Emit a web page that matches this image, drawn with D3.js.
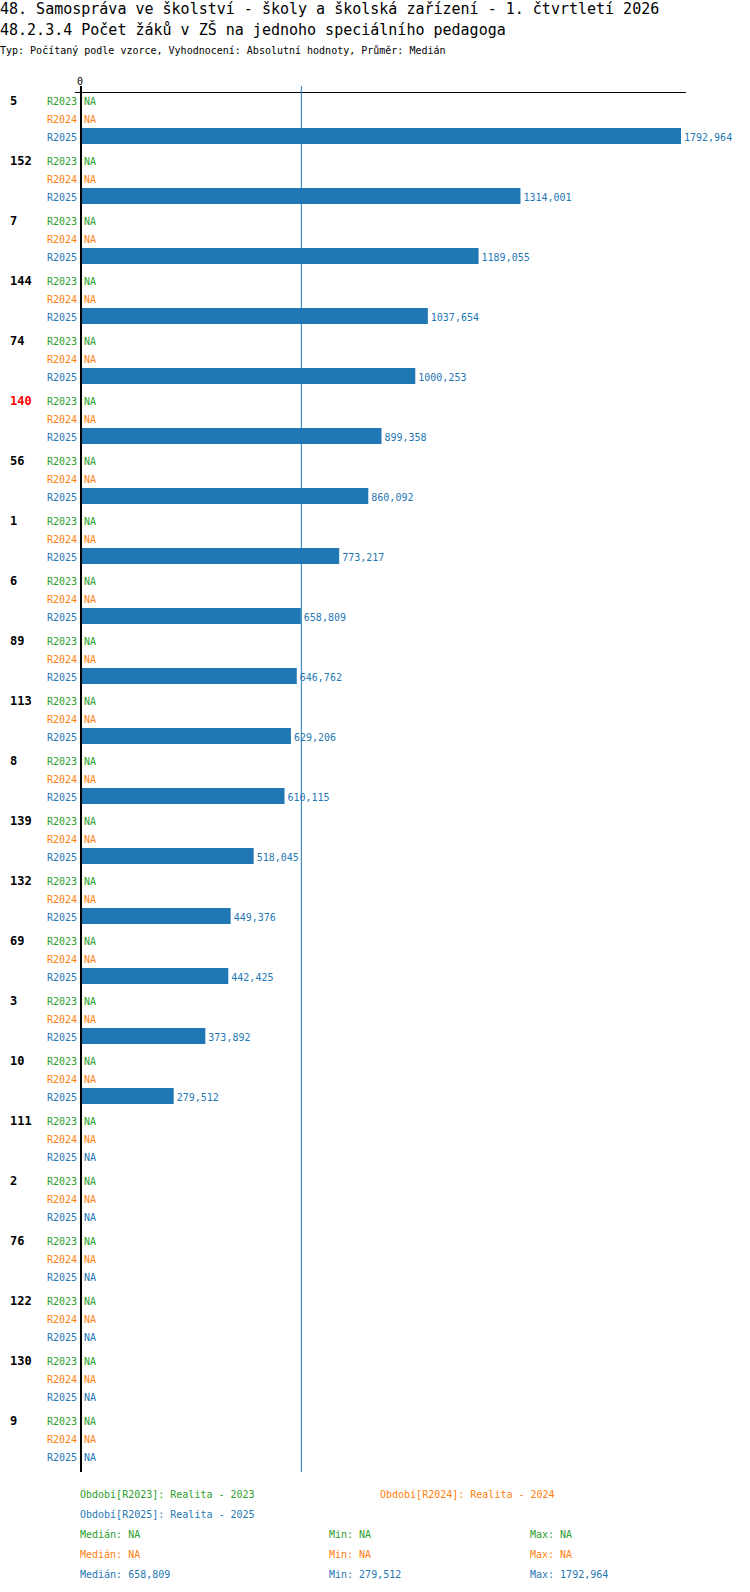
<!DOCTYPE html>
<html>
<head>
<meta charset="utf-8">
<script src="https://cdn.jsdelivr.net/npm/d3@7/dist/d3.min.js"></script>
<style>
  body { margin: 0; background: #fff; }
  svg { display: block; font-family: "DejaVu Sans Mono", "Liberation Mono", monospace; }
</style>
</head>
<body>
<svg id="chart" width="750" height="1592"></svg>
<script>
// ---- data ----
const titleLine1 = "48. Samospráva ve školství - školy a školská zařízení - 1. čtvrtletí 2026";
const titleLine2 = "48.2.3.4 Počet žáků v ZŠ na jednoho speciálního pedagoga";
const subtitle = "Typ: Počítaný podle vzorce, Vyhodnocení: Absolutní hodnoty, Průměr: Medián";
const categories = ["5","152","7","144","74","140","56","1","6","89","113","8","139","132","69","3","10","111","2","76","122","130","9"];
const highlighted = ["140"];
const series = ["R2023","R2024","R2025"];
const seriesNames = ["Realita - 2023","Realita - 2024","Realita - 2025"];
const valuesR2023 = [null,null,null,null,null,null,null,null,null,null,null,null,null,null,null,null,null,null,null,null,null,null,null];
const valuesR2024 = [null,null,null,null,null,null,null,null,null,null,null,null,null,null,null,null,null,null,null,null,null,null,null];
const valuesR2025 = [1792.964,1314.001,1189.055,1037.654,1000.253,899.358,860.092,773.217,658.809,646.762,629.206,610.115,518.045,449.376,442.425,373.892,279.512,null,null,null,null,null,null];
const xTicks = [0];

const colors = ["#2ca02c","#ff7f0e","#1f77b4"];
const allValues = [valuesR2023, valuesR2024, valuesR2025];

const fmt = v => v == null ? "NA" : d3.format(".3f")(v).replace(".", ",");

const svg = d3.select("#chart");

// titles
svg.append("text").attr("x", 0).attr("y", 13.5).attr("font-size", 15).attr("fill", "#000").text(titleLine1);
svg.append("text").attr("x", 0).attr("y", 35).attr("font-size", 15).attr("fill", "#000").text(titleLine2);
svg.append("text").attr("x", 0).attr("y", 53.5).attr("font-size", 10).attr("fill", "#000").text(subtitle);

// scales
const x0 = 80;
const maxVal = d3.max(valuesR2025.filter(v => v != null));
const x = d3.scaleLinear().domain([0, maxVal]).range([x0, 681]);
const y = d3.scaleBand().domain(categories).range([92, 92 + 60 * categories.length]);
const yInner = d3.scaleBand().domain(series).range([0, 54]);

const plotTop = 86, plotBottom = y.range()[1];

// top axis line
svg.append("line").attr("x1", 75).attr("x2", 686).attr("y1", 92.5).attr("y2", 92.5)
  .attr("stroke", "#000").attr("stroke-width", 1);

// tick labels
svg.selectAll(".tick").data(xTicks).enter().append("text")
  .attr("x", d => x(d)).attr("y", 85).attr("text-anchor", "middle")
  .attr("font-size", 10).attr("fill", "#000").text(d => d);

// median line (R2025)
const med = d3.median(valuesR2025.filter(v => v != null));
svg.append("line").attr("x1", x(med) + 0.5).attr("x2", x(med) + 0.5)
  .attr("y1", plotTop).attr("y2", plotBottom).attr("stroke", "#1f77b4").attr("stroke-width", 1);

// groups
const g = svg.selectAll(".grp").data(categories).enter().append("g")
  .attr("transform", d => `translate(0,${y(d)})`);

g.append("text").attr("x", 10).attr("y", 13.3)
  .attr("font-size", 12).attr("font-weight", "bold")
  .attr("fill", d => highlighted.includes(d) ? "#ff0000" : "#000")
  .text(d => d);

series.forEach((s, si) => {
  const vals = allValues[si];
  g.append("text").attr("x", 77).attr("y", yInner(s) + 13.3)
    .attr("text-anchor", "end").attr("font-size", 10).attr("fill", colors[si]).text(s);
  g.filter((d, i) => vals[i] != null).append("rect")
    .attr("x", x0).attr("y", yInner(s))
    .attr("width", d => x(vals[categories.indexOf(d)]) - x0)
    .attr("height", 16).attr("fill", colors[si]);
  g.append("text")
    .attr("x", d => { const v = vals[categories.indexOf(d)]; return v == null ? 84 : x(v) + 3; })
    .attr("y", yInner(s) + 13.3)
    .attr("font-size", 10).attr("fill", colors[si])
    .text(d => fmt(vals[categories.indexOf(d)]));
});

// vertical axis line
svg.append("line").attr("x1", 81).attr("x2", 81).attr("y1", plotTop).attr("y2", plotBottom)
  .attr("stroke", "#000").attr("stroke-width", 2);

// legend
const legY = 1498;
const legPos = [[80, legY], [380, legY], [80, legY + 20]];
series.forEach((s, si) => {
  svg.append("text").attr("x", legPos[si][0]).attr("y", legPos[si][1])
    .attr("font-size", 10).attr("fill", colors[si])
    .text(`Období[${s}]: ${seriesNames[si]}`);
});
series.forEach((s, si) => {
  const vals = allValues[si].filter(v => v != null);
  const yy = legY + 40 + si * 20;
  const mdn = vals.length ? d3.median(vals) : null;
  const mn = vals.length ? d3.min(vals) : null;
  const mx = vals.length ? d3.max(vals) : null;
  svg.append("text").attr("x", 80).attr("y", yy).attr("font-size", 10).attr("fill", colors[si]).text(`Medián: ${fmt(mdn)}`);
  svg.append("text").attr("x", 329).attr("y", yy).attr("font-size", 10).attr("fill", colors[si]).text(`Min: ${fmt(mn)}`);
  svg.append("text").attr("x", 530).attr("y", yy).attr("font-size", 10).attr("fill", colors[si]).text(`Max: ${fmt(mx)}`);
});
</script>
</body>
</html>
